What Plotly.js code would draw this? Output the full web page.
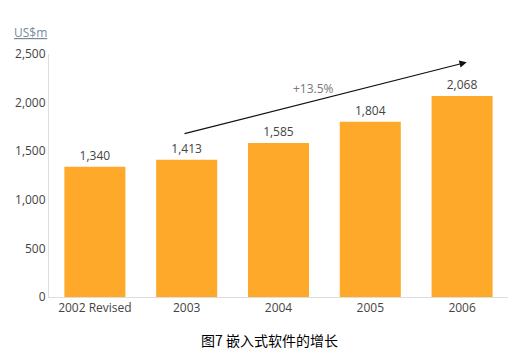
<!DOCTYPE html>
<html><head><meta charset="utf-8">
<script src="https://cdn.plot.ly/plotly-3.0.1.min.js"></script>
<style>body{margin:0;background:#fff}#c{width:512px;height:353px}</style>
</head><body><div id="c"></div>
<script>
const categories = ["2002 Revised","2003","2004","2005","2006"];
const values = [1340,1413,1585,1804,2068];
const valueLabels = ["1,340","1,413","1,585","1,804","2,068"];
const yTicks = [0,500,1000,1500,2000,2500];
const yTickLabels = ["0","500","1,000","1,500","2,000","2,500"];
const growthLabel = "+13.5%";
const unitLabel = "US$m";
const chartTitle = "图7 嵌入式软件的增长";

const font = "'Open Sans', 'Noto Sans CJK SC', sans-serif";
const trace = {
  type: "bar", x: categories, y: values,
  marker: {color: "#FFA92B"},
  text: valueLabels, textposition: "outside", cliponaxis: false,
  textfont: {family: font, size: 12, color: "#444"},
  hoverinfo: "none"
};
const layout = {
  width: 512, height: 353,
  margin: {l: 49, r: 4, t: 54, b: 56},
  paper_bgcolor: "#fff", plot_bgcolor: "#fff",
  bargap: 0.335,
  showlegend: false,
  font: {family: font, size: 12, color: "#444"},
  xaxis: {type: "category", showline: true, linecolor: "#ddd", linewidth: 1,
          ticks: "", showgrid: false, tickfont: {size: 12, color: "#444"}},
  yaxis: {range: [0, 2500], tickvals: yTicks, ticktext: yTickLabels,
          showline: true, linecolor: "#ddd", linewidth: 1, showgrid: false,
          zeroline: false, ticks: "", ticklen: 0, tickfont: {size: 12, color: "#444"}},
  annotations: [
    {xref: "x", yref: "y", x: 4.05, y: 2415, ax: 0.96, ay: 1677, axref: "x", ayref: "y",
     showarrow: true, arrowhead: 2, arrowsize: 1.2, arrowwidth: 1.2, arrowcolor: "#111", text: ""},
    {xref: "x", yref: "y", x: 2.38, y: 2150, text: growthLabel, showarrow: false,
     font: {family: font, size: 12, color: "#777"}},
    {xref: "paper", yref: "paper", x: -0.04, y: 1.0, yshift: 11, xanchor: "center", yanchor: "bottom",
     text: "<u>" + unitLabel + "</u>", showarrow: false, font: {family: font, size: 12, color: "#7a8a9a"}},
    {xref: "paper", yref: "paper", x: 0.48, y: 0, yshift: -31, xanchor: "center", yanchor: "top",
     text: chartTitle, showarrow: false, font: {family: "'Noto Sans CJK SC', sans-serif", size: 14, color: "#000"}}
  ]
};
Plotly.newPlot("c", [trace], layout, {displayModeBar: false, staticPlot: true});
</script></body></html>
